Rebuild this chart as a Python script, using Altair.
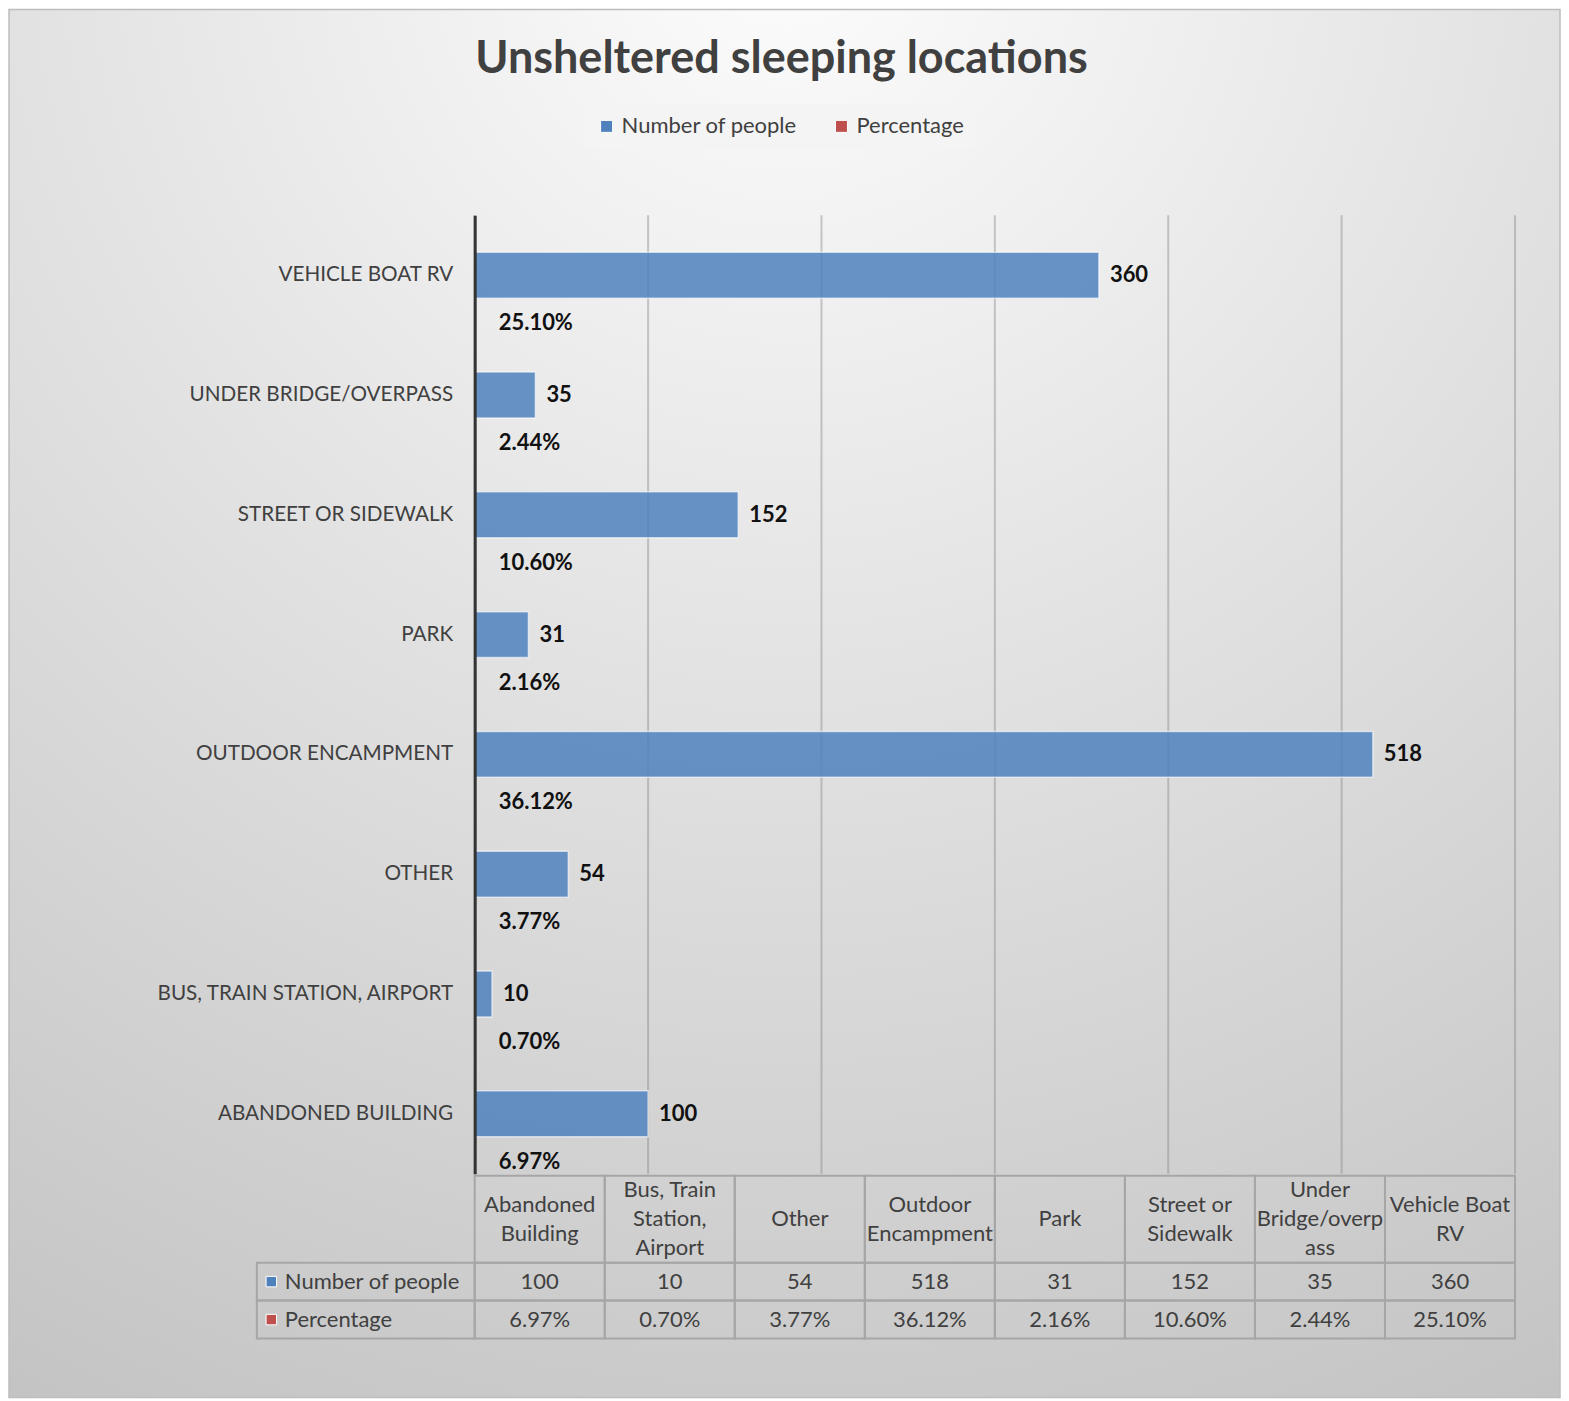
import altair as alt
import pandas as pd

# ---------------- data ----------------
TITLE = "Unsheltered sleeping locations"
categories = ["Abandoned Building", "Bus, Train Station, Airport", "Other",
              "Outdoor Encampment", "Park", "Street or Sidewalk",
              "Under Bridge/overpass", "Vehicle Boat RV"]
header_labels = ["Abandoned\nBuilding", "Bus, Train\nStation,\nAirport", "Other",
                 "Outdoor\nEncampment", "Park", "Street or\nSidewalk",
                 "Under\nBridge/overp\nass", "Vehicle Boat\nRV"]
people = [100, 10, 54, 518, 31, 152, 35, 360]
percent_labels = ["6.97%", "0.70%", "3.77%", "36.12%", "2.16%", "10.60%", "2.44%", "25.10%"]
series_names = ["Number of people", "Percentage"]
series_colors = ["#4F81BD", "#C0504D"]
x_ticks = [0, 100, 200, 300, 400, 500, 600]

# ---------------- layout / style constants (pixels, relative to plot origin) ----------------
W, H = 1041, 959
FONT = "Lato"
FS = 22
TXT = "#404040"
BORDER = "#a6a6a6"
HDR_TOP, HDR_BOT = 961, 1048
R1_TOP, R1_BOT = 1048, 1086
R2_TOP, R2_BOT = 1086, 1124
LEFT_COL = -218
LINE_H = 29

axis_names = [c.upper() for c in categories]
df = pd.DataFrame({
    "cat": axis_names,
    "people": people,
    "pct": percent_labels,
    "series": series_names[0],
})
ydomain = list(reversed(axis_names))

tbl = pd.DataFrame({
    "col": categories,
    "header": header_labels,
    "nlines": [h.count("\n") + 1 for h in header_labels],
    "people": [str(v) for v in people],
    "pct": percent_labels,
})
rows = pd.DataFrame({"label": series_names, "color": series_colors})
ticks_df = pd.DataFrame({"v": x_ticks})

# ---------------- background ----------------
bg = alt.Chart(pd.DataFrame({"a": [0]})).mark_rect(
    fill={"gradient": "radial",
          "x1": 0.5, "y1": 0.0, "r1": 0.0,
          "x2": 0.5, "y2": 0.0, "r2": 1.1,
          "stops": [{"offset": 0, "color": "#fdfdfd"},
                    {"offset": 0.45, "color": "#e2e2e2"},
                    {"offset": 1, "color": "#c2c2c2"}]},
    stroke="#bdbdbd", strokeWidth=1.5,
).encode(x=alt.value(-466), x2=alt.value(1086), y=alt.value(-206), y2=alt.value(1183))

title = alt.Chart(pd.DataFrame({"t": [TITLE]})).mark_text(
    font=FONT, fontSize=45, fontWeight="bold", color=TXT,
    align="center", baseline="alphabetic",
).encode(text="t:N", x=alt.value(307), y=alt.value(-142))

# ---------------- bars ----------------
yenc = alt.Y("cat:N", sort=ydomain,
             scale=alt.Scale(domain=ydomain, paddingInner=0.617, paddingOuter=0.3085),
             axis=alt.Axis(title=None, ticks=False, domain=True, domainColor="#333333",
                           domainWidth=3, labelFontSize=20.7, labelColor=TXT,
                           labelFont=FONT, labelPadding=22, labelLimit=500, grid=False,
                           zindex=1))
xscale = alt.Scale(domain=[0, 600], nice=False)

grid = alt.Chart(ticks_df).mark_rule(color="#808080", opacity=0.4, strokeWidth=2).encode(
    x=alt.X("v:Q", scale=xscale, axis=None), y=alt.value(0), y2=alt.value(H))

bars = alt.Chart(df).mark_bar(
    fillOpacity=0.85, stroke="#ffffff", strokeOpacity=0.6, strokeWidth=1.5,
).encode(
    x=alt.X("people:Q", scale=xscale, axis=None),
    y=yenc,
    color=alt.Color("series:N",
                    scale=alt.Scale(domain=series_names, range=series_colors),
                    legend=alt.Legend(title=None, orient="none", legendX=110, legendY=-111,
                                      direction="horizontal", symbolType="square",
                                      symbolSize=144, labelFontSize=FS, labelFont=FONT,
                                      labelColor=TXT, labelLimit=400, columnPadding=33,
                                      padding=11, fillColor="#f4f4f4", symbolOpacity=1,
                                      symbolStrokeColor="#ffffff", symbolStrokeWidth=1)),
)

num_labels = alt.Chart(df).mark_text(
    align="left", baseline="middle", dx=11, font=FONT, fontSize=FS,
    fontWeight="bold", color="#111111",
).encode(x=alt.X("people:Q", scale=xscale), y=alt.Y("cat:N", sort=ydomain), text="people:Q")

pct_labels = alt.Chart(df).mark_text(
    align="left", baseline="middle", dx=24, dy=48, font=FONT, fontSize=FS,
    fontWeight="bold", color="#111111",
).encode(x=alt.datum(0, scale=xscale), y=alt.Y("cat:N", sort=ydomain), text="pct:N")

chart_main = alt.layer(grid, bars, num_labels, pct_labels)

# ---------------- data table ----------------
xcol = alt.X("col:N", sort=categories,
             scale=alt.Scale(domain=categories, paddingInner=0, paddingOuter=0),
             axis=None)

def cell_rects(top, bot):
    return alt.Chart(tbl).mark_rect(fillOpacity=0, stroke=BORDER, strokeWidth=2).encode(
        x=xcol, y=alt.value(top), y2=alt.value(bot))

def cell_text(field, ymid):
    return alt.Chart(tbl).mark_text(
        align="center", baseline="middle", font=FONT, fontSize=FS, color=TXT,
    ).encode(x=xcol, y=alt.value(ymid), text=f"{field}:N")

def header_text(n):
    return alt.Chart(tbl).transform_filter(alt.datum.nlines == n).mark_text(
        align="center", baseline="middle", font=FONT, fontSize=FS, color=TXT,
        lineBreak="\n", lineHeight=LINE_H, dy=-(n - 1) * LINE_H / 2,
    ).encode(x=xcol, y=alt.value((HDR_TOP + HDR_BOT) / 2), text="header:N")

row_y = alt.Y("label:N", sort=series_names,
              scale=alt.Scale(domain=series_names, range=[R1_TOP, R2_BOT],
                              paddingInner=0, paddingOuter=0),
              axis=None)
left_boxes = alt.Chart(rows).mark_rect(fillOpacity=0, stroke=BORDER, strokeWidth=2).encode(
    x=alt.value(LEFT_COL), x2=alt.value(0), y=row_y)
left_keys = alt.Chart(rows).mark_square(size=110, opacity=1, stroke="#ffffff", strokeWidth=1).encode(
    x=alt.value(LEFT_COL + 14.5), y=row_y, fill=alt.Fill("color:N", scale=None))
left_text = alt.Chart(rows).mark_text(
    align="left", baseline="middle", font=FONT, fontSize=FS, color=TXT,
).encode(x=alt.value(LEFT_COL + 28), y=row_y, text="label:N")
left_col = alt.layer(left_boxes, left_keys, left_text)

table = alt.layer(
    cell_rects(HDR_TOP, HDR_BOT), cell_rects(R1_TOP, R1_BOT), cell_rects(R2_TOP, R2_BOT),
    header_text(1), header_text(2), header_text(3),
    cell_text("people", (R1_TOP + R1_BOT) / 2),
    cell_text("pct", (R2_TOP + R2_BOT) / 2),
)

chart = alt.layer(bg, title, chart_main, table, left_col).resolve_scale(
    x="independent", y="independent", color="independent", fill="independent"
).properties(
    width=W, height=H, padding=0,
).configure_view(stroke=None)

chart.save("out.html", embed_options={"renderer": "svg", "actions": False})
